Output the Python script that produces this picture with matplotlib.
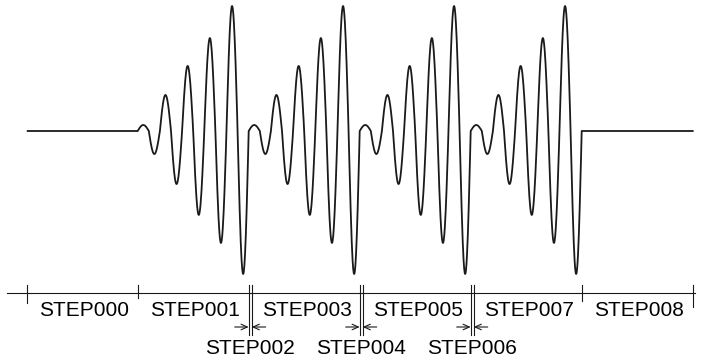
import numpy as np
import matplotlib
matplotlib.use("Agg")
import matplotlib.pyplot as plt

# ---- data ----
step_names = ["STEP000", "STEP001", "STEP002", "STEP003", "STEP004",
              "STEP005", "STEP006", "STEP007", "STEP008"]
# step boundaries (time units)
step_bounds = [0, 111, 222, 225, 333, 336, 444, 447, 555, 666]
short_steps = ["STEP002", "STEP004", "STEP006"]
# burst start times and duration
burst_starts = [111, 222, 333, 444]
burst_len = 111
# extrema of each half-cycle within one burst (normalised amplitude)
half_cycle_amps = [0.042, -0.161, 0.252, -0.371, 0.455, -0.587,
                   0.650, -0.783, 0.874, -1.0]
signal_start = 1
signal_end = 666

# ---- figure ----
fig = plt.figure(figsize=(7.05, 3.63), dpi=100)
ax = fig.add_axes([0, 0, 1, 1])
ax.set_xlim(-26.7, 705 - 26.7)
ax.set_ylim(363, 0)
ax.axis("off")

BASE = 131.0
SCALE = 143.0
line_col = "#1a1a1a"

# build waveform
ts = [signal_start, burst_starts[0]]
ys = [0.0, 0.0]
half = burst_len / len(half_cycle_amps)
for b0 in burst_starts:
    for k, a in enumerate(half_cycle_amps):
        s = np.linspace(0, 1, 40)
        ts.extend(b0 + (k + s) * half)
        ys.extend(a * np.sin(np.pi * s))
ts.append(signal_end)
ys.append(0.0)
ts = np.asarray(ts, dtype=float)
ys = np.asarray(ys, dtype=float)
ax.plot(ts, BASE - ys * SCALE, color=line_col, lw=1.3, solid_joinstyle="round")

# timeline
TL = 293.0
ax.plot([-19.7, 668.3], [TL, TL], color=line_col, lw=0.8)

# tick marks at boundaries
tick_ext = {0: (285, 303), 111: (285, 298), 555: (285, 301), 666: (285, 307)}
for b in step_bounds:
    top, bot = tick_ext.get(b, (285, 335))
    ax.plot([b, b], [top, bot], color=line_col, lw=0.8)

# labels
bounds_pairs = list(zip(step_bounds[:-1], step_bounds[1:]))
for name, (a, b) in zip(step_names, bounds_pairs):
    c = (a + b) / 2
    if name in short_steps:
        ax.text(c, 349, name, ha="center", va="center", fontsize=15,
                family="Liberation Sans", color="black")
        ax.annotate("", xy=(a, 327), xytext=(a - 14, 327),
                    arrowprops=dict(arrowstyle="->,head_length=0.45,head_width=0.2",
                                    color=line_col, lw=0.8, shrinkA=0, shrinkB=0))
        ax.annotate("", xy=(b, 327), xytext=(b + 14, 327),
                    arrowprops=dict(arrowstyle="->,head_length=0.45,head_width=0.2",
                                    color=line_col, lw=0.8, shrinkA=0, shrinkB=0))
    else:
        ax.text(c + 1.5, 311, name, ha="center", va="center", fontsize=15,
                family="Liberation Sans", color="black")

fig.savefig("out.png", dpi=100)
